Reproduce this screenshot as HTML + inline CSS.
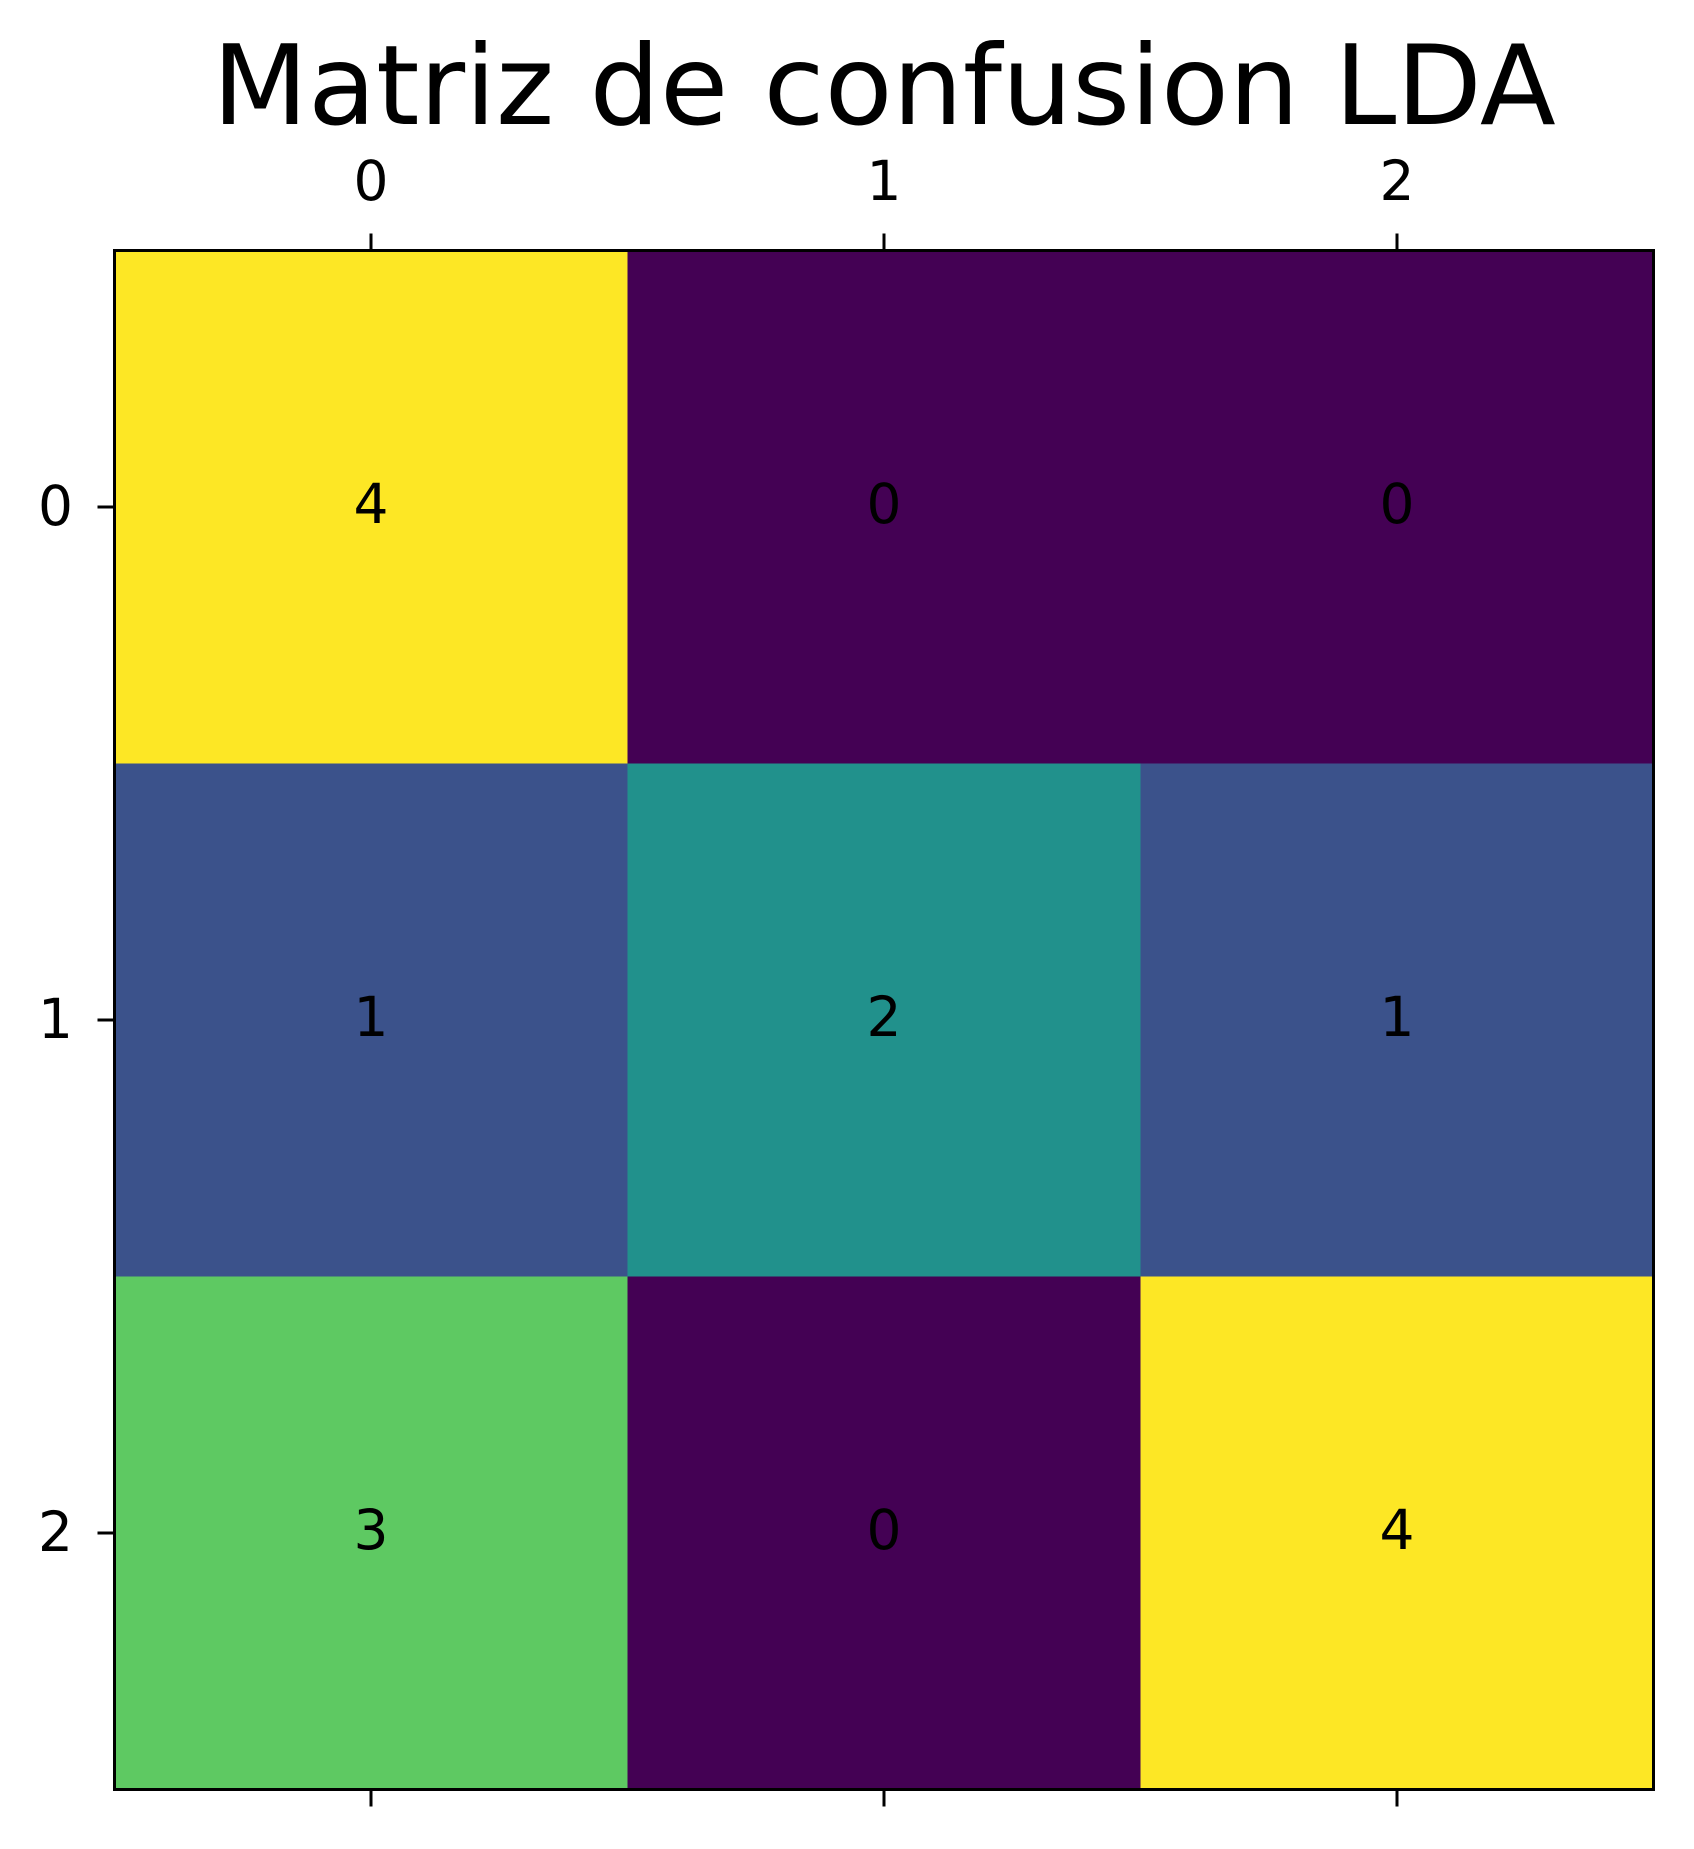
<!DOCTYPE html>
<html><head><meta charset="utf-8"><style>html,body{margin:0;padding:0;background:#fff}svg{display:block}</style></head>
<body>
<svg id="chart" width="1694" height="1849" xmlns="http://www.w3.org/2000/svg" font-family="'DejaVu Sans','Liberation Sans',sans-serif">
<text x="884" y="124" font-size="111" text-anchor="middle">Matriz de confusion LDA</text>
<g id="cells"></g>
<g id="axes"></g>
</svg>
<script>
const rowLabels = ["0","1","2"];
const colLabels = ["0","1","2"];
const values = [[4,0,0],[1,2,1],[3,0,4]];
const vmin = 0, vmax = 4;

const L = 114.5, T = 250.5, CW = 513, CH = 513;
const NS = "http://www.w3.org/2000/svg";
const viridis = [[68,1,84],[59,82,139],[33,145,140],[94,201,98],[253,231,37]];
function color(v){
  const t = (v - vmin) / (vmax - vmin) * (viridis.length - 1);
  const i = Math.min(Math.floor(t), viridis.length - 2), f = t - i;
  const c = viridis[i].map((a,k)=>Math.round(a + (viridis[i+1][k]-a)*f));
  return `rgb(${c[0]},${c[1]},${c[2]})`;
}
const xPos = j => L + (j + 0.5) * CW;
const yPos = i => T + (i + 0.5) * CH;
function mk(tag, attrs, parent){ const e=document.createElementNS(NS,tag); for(const k in attrs) e.setAttribute(k,attrs[k]); parent.appendChild(e); return e; }
const cells = document.getElementById('cells'), axes = document.getElementById('axes');
values.forEach((row,i)=>row.forEach((v,j)=>{
  const r = mk('rect',{x:xPos(j)-CW/2,y:yPos(i)-CH/2,width:CW+0.5,height:CH+0.5,fill:color(v)},cells);
  
  
  const t = mk('text',{x:xPos(j),y:yPos(i)+16,'font-size':55,'text-anchor':'middle',fill:'#000'},cells);
  t.textContent = v;
  
  
}));
const frame = mk('rect',{x:L,y:T,width:CW*3,height:CH*3,fill:'none',stroke:'#000','stroke-width':3},axes);


colLabels.forEach((lab,j)=>{
  const x = xPos(j);
  const t1 = mk('line',{x1:x,y1:T,x2:x,y2:T-17,stroke:'#000','stroke-width':3},axes);
  
  
  const t2 = mk('line',{x1:x,y1:T+CH*3,x2:x,y2:T+CH*3+17,stroke:'#000','stroke-width':3},axes);
  
  
  const tx = mk('text',{x:x,y:200,'font-size':55,'text-anchor':'middle'},axes);
  tx.textContent = lab;
  
  
});
rowLabels.forEach((lab,i)=>{
  const y = yPos(i);
  const tk = mk('line',{x1:L,y1:y,x2:L-17,y2:y,stroke:'#000','stroke-width':3},axes);
  
  
  const ty = mk('text',{x:73,y:y+18,'font-size':55,'text-anchor':'end'},axes);
  ty.textContent = lab;
  
  
});
</script>
</body></html>
